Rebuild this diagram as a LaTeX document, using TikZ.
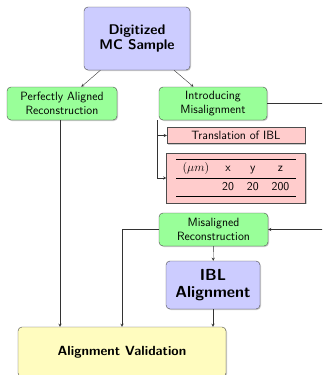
\documentclass[tikz,border=0pt]{standalone}
\usepackage{booktabs}
\usetikzlibrary{shapes,arrows,positioning,calc,shadows}

\begin{document}
\begin{tikzpicture}[
    x=1pt, y=-1pt,
    font=\sffamily\fontsize{12}{13.5}\selectfont,
    box/.style={rectangle, draw=black!70, rounded corners=4pt, align=center, inner sep=2pt, drop shadow={shadow xshift=1pt, shadow yshift=-1pt, fill=black!50, opacity=.4}},
    mainbox/.style={box, fill=blue!20, font=\sffamily\fontsize{14}{15.5}\selectfont\bfseries},
    stepbox/.style={box, fill=green!40, minimum height=33pt},
    infobox/.style={rectangle, draw=black!70, fill=red!20, inner sep=1pt, drop shadow={shadow xshift=1pt, shadow yshift=-1pt, fill=black!50, opacity=.4}},
    arrow/.style={->, >=stealth, black!80}
]
\clip (0,0) rectangle (322,375);

% Input
\node[mainbox, minimum width=106pt, minimum height=63pt] (digi) at (137,38.5) {Digitized\\MC Sample};

% Reconstructions
\node[stepbox, minimum width=110pt] (perfect) at (62,103.5) {Perfectly Aligned\\Reconstruction};
\node[stepbox, minimum width=108pt] (intro) at (213,103.5) {Introducing\\Misalignment};
\node[stepbox, minimum width=109pt] (misrec) at (213.5,229.5) {Misaligned\\Reconstruction};

% Misalignment details
\node[infobox, minimum width=138pt, minimum height=16pt] (transl) at (236,135.5) {Translation of IBL};
\node[infobox, minimum width=139pt, minimum height=50pt] (shift) at (236,178) {%
    \setlength{\tabcolsep}{6.5pt}%
    \begin{tabular}{cccc}
    \toprule
    $(\mu m)$ & x & y & z\\
    \midrule
     & 20 & 20 & 200\\
    \bottomrule
    \end{tabular}};

% Alignment and validation
\node[mainbox, font=\sffamily\fontsize{16}{17.5}\selectfont\bfseries, minimum width=94pt, minimum height=48pt] (ibl) at (213,285) {IBL\\Alignment};
\node[box, fill=yellow!25, font=\sffamily\fontsize{13.3}{15}\selectfont\bfseries, minimum width=208pt, minimum height=50pt] (valid) at (122,352) {Alignment Validation};

% Connections
\coordinate (split) at ($(intro.south west)+(-2,0)$);
\coordinate (drop) at ($(perfect.south)+(-2,0)$);
\coordinate (loop) at (340,104);
\draw[arrow] (digi) -- (perfect);
\draw[arrow] (digi) -- (intro);
\draw[arrow] (split) |- (transl.west);
\draw[arrow] (split) |- (shift.west);
\draw[arrow] (intro.east) -- (loop |- intro.east) -- (loop |- misrec.east) -- (misrec.east);
\draw[arrow] (drop) -- (drop |- valid.north);
\draw[arrow] (misrec.west) -| (valid.north);
\draw[arrow] (misrec) -- (ibl);
\draw[arrow] (ibl) -- (ibl |- valid.north);

\end{tikzpicture}
\end{document}
